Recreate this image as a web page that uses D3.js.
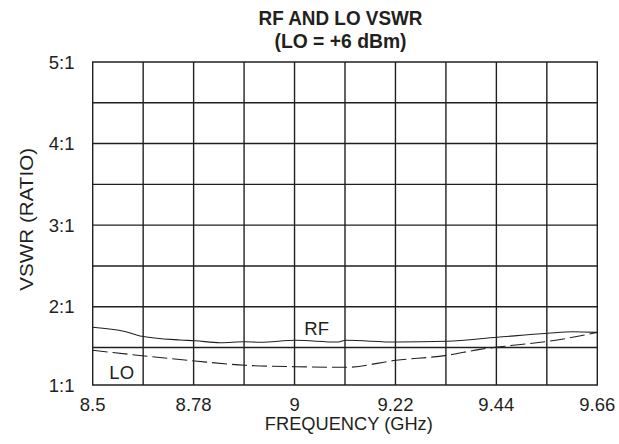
<!DOCTYPE html>
<html><head><meta charset="utf-8">
<script src="https://cdn.jsdelivr.net/npm/d3@7"></script>
<style>
html,body{margin:0;padding:0;background:#fff;}
text{font-family:"Liberation Sans Narrow","Arial Narrow","Liberation Sans",sans-serif;fill:#231f20;}
</style></head>
<body><svg id="c" width="619" height="444"></svg>
<script>
const titleLines = ["RF AND LO VSWR", "(LO = +6 dBm)"];
const xLabel = "FREQUENCY (GHz)";
const yLabel = "VSWR (RATIO)";
const xTickLabels = ["8.5", "8.78", "9", "9.22", "9.44", "9.66"];
const yTickValues = [1, 2, 3, 4, 5];
const yTickLabels = ["1:1", "2:1", "3:1", "4:1", "5:1"];
const rfFreq = [8.5, 8.574, 8.609, 8.701, 8.735, 8.793, 8.85, 8.885, 8.967, 9.061, 9.082, 9.197, 9.314, 9.43, 9.545, 9.604, 9.66];
const rfVswr = [1.748, 1.696, 1.641, 1.592, 1.583, 1.559, 1.571, 1.564, 1.588, 1.567, 1.588, 1.567, 1.576, 1.625, 1.674, 1.694, 1.686];
const loFreq = [8.5, 8.619, 8.735, 8.85, 8.967, 9.082, 9.197, 9.314, 9.39, 9.466, 9.545, 9.66];
const loVswr = [1.463, 1.387, 1.32, 1.263, 1.244, 1.236, 1.329, 1.396, 1.475, 1.527, 1.574, 1.684];

const svg = d3.select("#c");
const L = 92.7, R = 597.3;
const x = d3.scaleLinear().domain([8.5, 9.66]).range([L, R]);
// chart's printed grid is slightly uneven: bottom division is shorter
const y = d3.scaleLinear().domain([1, 1.5, 5]).range([385, 347.5, 62]);
const xGrid = d3.range(11).map(i => 8.5 + i * 0.116);
const yGrid = d3.range(9).map(i => 1 + i * 0.5);
const ink = "#231f20";
const T = y(5), B = y(1);

// grid
const g = svg.append("g");
g.selectAll("line.v").data(xGrid).join("line")
  .attr("x1", d => x(d)).attr("x2", d => x(d)).attr("y1", T).attr("y2", B)
  .attr("stroke", ink).attr("stroke-width", 1.4);
g.selectAll("line.h").data(yGrid).join("line")
  .attr("y1", d => y(d)).attr("y2", d => y(d)).attr("x1", L - 0.7).attr("x2", R + 0.7)
  .attr("stroke", ink).attr("stroke-width", 1.4);

// x tick labels at every other gridline
svg.append("g").selectAll("text").data(xTickLabels).join("text")
  .attr("x", (d, i) => x(xGrid[i * 2])).attr("y", 411)
  .attr("text-anchor", "middle").attr("font-size", 18.5).text(d => d);
// y tick labels
svg.append("g").selectAll("text").data(yTickValues).join("text")
  .attr("x", 74.5).attr("y", d => y(d) + 6.5)
  .attr("text-anchor", "end").attr("font-size", 18.5).text((d, i) => yTickLabels[i]);

// curves
const line = d3.line().x(d => x(d[0])).y(d => y(d[1])).curve(d3.curveMonotoneX);
svg.append("path").datum(rfFreq.map((f, i) => [f, rfVswr[i]]))
  .attr("d", line).attr("fill", "none").attr("stroke", ink).attr("stroke-width", 1.1);
svg.append("path").datum(loFreq.map((f, i) => [f, loVswr[i]]))
  .attr("d", line).attr("fill", "none").attr("stroke", ink).attr("stroke-width", 1.1)
  .attr("stroke-dasharray", "15,5");

// curve labels
svg.append("text").attr("x", 316.7).attr("y", 335).attr("text-anchor", "middle")
  .attr("font-size", 18.5).text("RF");
svg.append("text").attr("x", 121.7).attr("y", 378.5).attr("text-anchor", "middle")
  .attr("font-size", 18.5).text("LO");

// title
const tw = [164, 132];
svg.append("g").selectAll("text").data(titleLines).join("text")
  .attr("x", 340.5).attr("y", (d, i) => i === 0 ? 25 : 48)
  .attr("text-anchor", "middle").attr("font-size", 20.5).attr("font-weight", "bold")
  .attr("textLength", (d, i) => tw[i]).attr("lengthAdjust", "spacingAndGlyphs").text(d => d);

// axis titles
svg.append("text").attr("x", 348.8).attr("y", 430).attr("text-anchor", "middle")
  .attr("font-size", 18.5).attr("textLength", 168).attr("lengthAdjust", "spacingAndGlyphs").text(xLabel);
svg.append("text").attr("transform", "translate(33,219.3) rotate(-90)")
  .attr("text-anchor", "middle").attr("font-size", 18.5)
  .attr("textLength", 142.7).attr("lengthAdjust", "spacingAndGlyphs").text(yLabel);
</script></body></html>
